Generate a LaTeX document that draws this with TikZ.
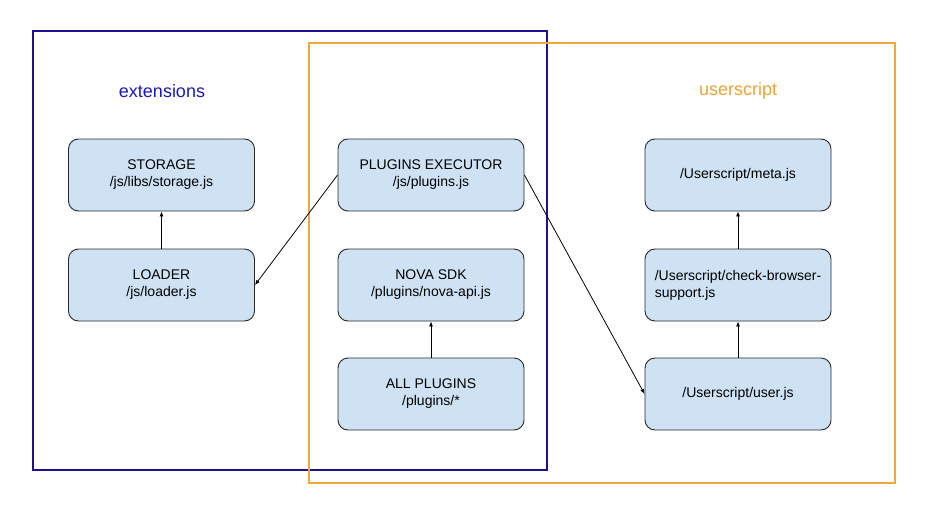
\documentclass[tikz,border=0pt]{standalone}
\usepackage{fontspec}
\setmainfont{Liberation Sans}
\usetikzlibrary{arrows.meta}

\definecolor{extframe}{RGB}{30,18,140}
\definecolor{exttext}{RGB}{28,26,180}
\definecolor{usrframe}{RGB}{240,168,56}
\definecolor{usrtext}{RGB}{236,164,52}
\definecolor{boxfill}{RGB}{207,226,243}
\definecolor{boxline}{RGB}{40,40,40}

\begin{document}
\begin{tikzpicture}[x=1pt,y=-1pt]
\tikzstyle{module}=[draw=boxline,fill=boxfill,line width=0.9pt,rounded corners=10pt,minimum width=186pt,minimum height=72pt,align=center,font=\fontsize{14}{17}\selectfont,inner sep=0pt]
\tikzstyle{link}=[line width=0.8pt,-{Latex[length=5pt,width=4pt]}]
\useasboundingbox[fill=white] (0,0) rectangle (928,527);
%%%%%%%%%%%%%%%%%%%%%%%%%%%%%%%%%%%%%%%%%%%%%%%%%%%%%%%%%%%%%%%%%%%%%%%%%%%%%%%%%%%%%%%%
%% Draw frames
%%%%%%%%%%%%%%%%%%%%%%%%%%%%%%%%%%%%%%%%%%%%%%%%%%%%%%%%%%%%%%%%%%%%%%%%%%%%%%%%%%%%%%%%
% extensions
\draw[color=extframe,line width=1.2pt] (33,31) rectangle (547,470);
\node[text=exttext,font=\fontsize{18}{22}\selectfont] (exttitle) at (162,91) {extensions};
% userscript
\draw[color=usrframe,line width=1.2pt] (309,43) rectangle (895,483);
\node[text=usrtext,font=\fontsize{18}{22}\selectfont] (usrtitle) at (738,91) {userscript};
%%%%%%%%%%%%%%%%%%%%%%%%%%%%%%%%%%%%%%%%%%%%%%%%%%%%%%%%%%%%%%%%%%%%%%%%%%%%%%%%%%%%%%%%

%%%%%%%%%%%%%%%%%%%%%%%%%%%%%%%%%%%%%%%%%%%%%%%%%%%%%%%%%%%%%%%%%%%%%%%%%%%%%%%%%%%%%%%%
%% Draw modules
%%%%%%%%%%%%%%%%%%%%%%%%%%%%%%%%%%%%%%%%%%%%%%%%%%%%%%%%%%%%%%%%%%%%%%%%%%%%%%%%%%%%%%%%
\node[module] (storage) at (161.5,175) {STORAGE\\/js/libs/storage.js};
\node[module] (loader) at (161.5,285) {LOADER\\/js/loader.js};

\node[module] (executor) at (431,175) {PLUGINS EXECUTOR\\/js/plugins.js};
\node[module] (novasdk) at (431,285) {NOVA SDK\\/plugins/nova-api.js};
\node[module] (allplugins) at (431,394) {ALL PLUGINS\\/plugins/*};

\node[module] (meta) at (738,175) {/Userscript/meta.js};
\node[module,align=left] (support) at (738,285) {/Userscript/check-browser-\\support.js};
\node[module] (userjs) at (738,394) {/Userscript/user.js};
%%%%%%%%%%%%%%%%%%%%%%%%%%%%%%%%%%%%%%%%%%%%%%%%%%%%%%%%%%%%%%%%%%%%%%%%%%%%%%%%%%%%%%%%

%%%%%%%%%%%%%%%%%%%%%%%%%%%%%%%%%%%%%%%%%%%%%%%%%%%%%%%%%%%%%%%%%%%%%%%%%%%%%%%%%%%%%%%%
%%% Draw connections
%%%%%%%%%%%%%%%%%%%%%%%%%%%%%%%%%%%%%%%%%%%%%%%%%%%%%%%%%%%%%%%%%%%%%%%%%%%%%%%%%%%%%%%%
\draw[link] (loader.north) -- (storage.south);
\draw[link] (executor.west) -- (loader.east);
\draw[link] (allplugins.north) -- (novasdk.south);
\draw[link] (executor.east) -- (userjs.west);
\draw[link] (userjs.north) -- (support.south);
\draw[link] (support.north) -- (meta.south);
%%%%%%%%%%%%%%%%%%%%%%%%%%%%%%%%%%%%%%%%%%%%%%%%%%%%%%%%%%%%%%%%%%%%%%%%%%%%%%%%%%%%%%%%

\end{tikzpicture}
\end{document}
